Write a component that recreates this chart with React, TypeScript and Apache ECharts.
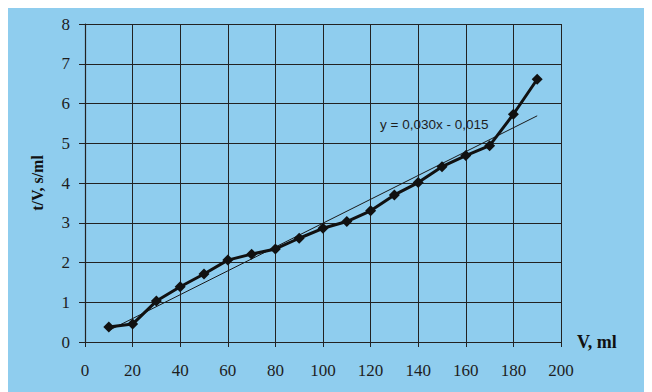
import React, { useEffect, useRef } from "react";
import * as echarts from "echarts";

const volumes = [10, 20, 30, 40, 50, 60, 70, 80, 90, 100, 110, 120, 130, 140, 150, 160, 170, 180, 190];
const tOverV = [0.38, 0.45, 1.03, 1.39, 1.71, 2.06, 2.21, 2.34, 2.61, 2.86, 3.03, 3.3, 3.7, 4.01, 4.41, 4.69, 4.94, 5.73, 6.61];
const trendX = [10, 190];
const trendY = [0.29, 5.69];
const trendLabel = "y = 0,030x - 0,015";

export default function App() {
  const ref = useRef<HTMLDivElement>(null);
  useEffect(() => {
    if (!ref.current) return;
    const chart = echarts.init(ref.current, null, { renderer: "svg" });
    const serif = "Liberation Serif, Times New Roman, serif";
    chart.setOption({
      animation: false,
      backgroundColor: "#8fcdee",
      grid: { left: 77, top: 16, right: 91, bottom: 50, show: false },
      xAxis: {
        type: "value",
        min: 0,
        max: 200,
        interval: 20,
        name: "V, ml",
        nameLocation: "end",
        nameGap: 16,
        nameTextStyle: { fontFamily: serif, fontWeight: "bold", fontSize: 18, color: "#111", padding: [14, 0, 0, 0] },
        axisLine: { show: true, lineStyle: { color: "#222", width: 1.2 } },
        axisTick: { show: true, length: 5, lineStyle: { color: "#222" } },
        axisLabel: { fontFamily: serif, fontSize: 17, color: "#1e1e1e", margin: 20 },
        splitLine: { show: true, lineStyle: { color: "#222", width: 1 } },
      },
      yAxis: {
        type: "value",
        min: 0,
        max: 8,
        interval: 1,
        name: "t/V, s/ml",
        nameLocation: "middle",
        nameGap: 40,
        nameTextStyle: { fontFamily: serif, fontWeight: "bold", fontSize: 16, color: "#111" },
        axisLine: { show: true, lineStyle: { color: "#222", width: 1.2 } },
        axisTick: { show: true, length: 6, lineStyle: { color: "#222" } },
        axisLabel: { fontFamily: serif, fontSize: 17, color: "#1e1e1e", margin: 15 },
        splitLine: { show: true, lineStyle: { color: "#222", width: 1 } },
      },
      series: [
        {
          type: "line",
          data: trendX.map((x, i) => [x, trendY[i]]),
          symbol: "none",
          lineStyle: { color: "#1a1a1a", width: 1 },
          z: 3,
        },
        {
          type: "line",
          data: volumes.map((x, i) => [x, tOverV[i]]),
          symbol: "diamond",
          symbolSize: 11,
          itemStyle: { color: "#111" },
          lineStyle: { color: "#111", width: 3 },
          z: 4,
        },
      ],
      graphic: [
        {
          type: "text",
          left: 372,
          top: 109,
          style: {
            text: trendLabel,
            fontFamily: "Liberation Sans, Arial, sans-serif",
            fontSize: 13.5,
            fill: "#1e1e1e",
          },
        },
      ],
    });
    return () => chart.dispose();
  }, []);
  return <div ref={ref} style={{ width: 644, height: 384 }} />;
}
